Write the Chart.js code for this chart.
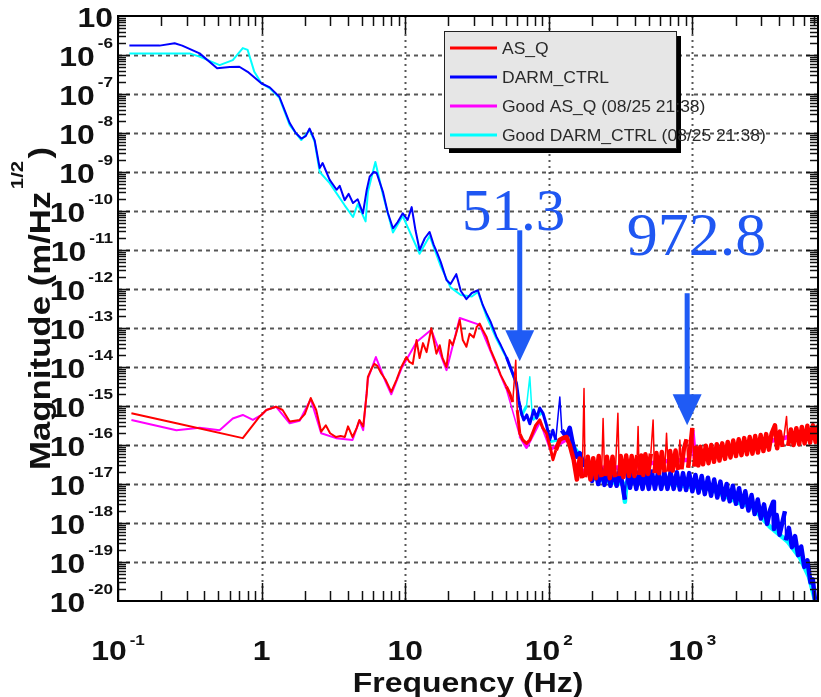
<!DOCTYPE html>
<html>
<head>
<meta charset="utf-8">
<title>AS_Q / DARM_CTRL spectrum</title>
<script src="https://cdn.jsdelivr.net/npm/chart.js@4.4.1/dist/chart.umd.min.js"></script>
<style>
  html, body { margin: 0; padding: 0; background: #fff; }
  #wrap { width: 821px; height: 697px; }
</style>
</head>
<body>
<div id="wrap"><canvas id="spec" width="821" height="697"></canvas></div>
<script>
// ---- data (Hz, m/Hz^1/2) ----
const asqFreq = [0.124, 0.255, 0.74, 0.97, 1.08, 1.26, 1.40, 1.57, 1.84, 2.0, 2.2, 2.4, 2.6, 2.8, 3.0, 3.3, 3.55, 3.8, 4.0, 4.3,
  4.6, 4.8, 5.1, 5.4, 5.5, 5.85, 6.1, 6.4, 6.8, 7.3, 8.0, 8.7, 9.4, 10.2, 10.7, 11.3, 12.0, 12.6, 13.3, 14.1,
  15.2, 15.8, 16.5, 17.4, 18.2, 19.4, 20.4, 21.4, 22.5, 24.0, 25.2, 26.7, 28.1, 30.0, 31.5, 33.0, 34.7, 36.8, 39.4, 43.2,
  46.3, 50.7, 53.5, 56.1, 58.9, 60.3, 62.8, 65.9, 70, 73.8, 77.4, 81, 86.5, 90.8, 96.4, 102, 107, 112, 119, 125,
  133, 140, 149, 157, 164, 171, 176, 179, 187, 195, 204, 213, 223, 233, 239, 245, 254, 266, 278, 290,
  303, 310, 317, 331, 346, 362, 378, 395, 413, 419, 426, 440, 455, 471, 492, 514, 533, 545, 562, 587,
  613, 641, 661, 680, 700, 731, 764, 799, 818, 840, 872, 912, 935, 965, 1000, 1030, 1060, 1100, 1136, 1187,
  1240, 1296, 1354, 1415, 1479, 1545, 1615, 1688, 1764, 1843, 1926, 2013, 2103, 2198, 2297, 2400, 2508, 2621, 2739, 2862,
  2991, 3126, 3266, 3413, 3567, 3760, 3895, 4070, 4254, 4530, 4645, 4854, 5073, 5301, 5540, 5789, 6050, 6322, 6607, 6904,
  7215, 7500];
const asqMag = [6.5e-16, 3.6e-16, 1.5e-16, 5.4e-16, 7.9e-16, 9.6e-16, 7.9e-16, 4.0e-16, 4.4e-16, 6.2e-16, 1.6e-15, 7.9e-16, 2.2e-16, 3.2e-16, 2.0e-16, 1.6e-16, 1.7e-16, 1.6e-16, 3.0e-16, 1.6e-16,
  2.75e-16, 4.4e-16, 3.0e-16, 2.1e-15, 5.6e-15, 9.3e-15, 1.2e-14, 1.07e-14, 6.9e-15, 4.7e-15, 2.3e-15, 4.7e-15, 1.0e-14, 1.8e-14, 1.35e-14, 1.2e-14, 4.9e-14, 1.7e-14, 4.1e-14, 2.4e-14,
  9.8e-14, 4.9e-14, 2.2e-14, 3.6e-14, 1.7e-14, 1.0e-14, 4.9e-14, 3.6e-14, 6.6e-14, 1.6e-13, 4.9e-14, 3.3e-14, 7.1e-14, 5.7e-14, 1.07e-13, 1.3e-13, 8.9e-14, 6.0e-14, 2.75e-14, 1.23e-14,
  6.2e-15, 3.2e-15, 2.1e-15, 1.26e-15, 1.5e-14, 7.9e-16, 2.0e-16, 1.35e-16, 1.1e-16, 1.35e-16, 2.1e-16, 3.2e-16, 4.4e-16, 2.75e-16, 2.0e-16, 9.1e-17, 4.2e-17, 7.4e-17, 1.35e-16, 1.5e-16,
  1.6e-16, 1.0e-16, 4.2e-17, 1.3e-17, 4.5e-17, 1.4e-17, 2.8e-15, 1.5e-17, 5.0e-17, 1.3e-17, 4.6e-17, 1.4e-17, 5.2e-17, 1.5e-17, 4.8e-16, 1.6e-17, 5.0e-17, 1.4e-17, 5.0e-17, 1.5e-17,
  6.5e-16, 1.6e-17, 5.2e-17, 1.5e-17, 5.4e-17, 1.6e-17, 5.2e-17, 1.6e-17, 5.5e-17, 3.0e-16, 1.7e-17, 5.4e-17, 1.7e-17, 5.8e-17, 1.8e-17, 6.0e-17, 4.4e-16, 1.9e-17, 6.2e-17, 1.9e-17,
  6.6e-17, 2.0e-17, 2.0e-16, 2.1e-17, 7.0e-17, 2.2e-17, 7.2e-17, 2.3e-17, 1.35e-16, 2.4e-17, 7.8e-17, 1.4e-16, 2.6e-17, 8.0e-17, 2.75e-16, 2.8e-17, 8.6e-17, 3.0e-17, 9.0e-17, 3.2e-17,
  9.6e-17, 3.4e-17, 1.0e-16, 3.7e-17, 1.05e-16, 4.0e-17, 1.1e-16, 4.4e-17, 1.2e-16, 4.8e-17, 1.3e-16, 5.2e-17, 1.4e-16, 5.5e-17, 1.5e-16, 5.8e-17, 1.6e-16, 6.0e-17, 1.7e-16, 6.4e-17,
  1.8e-16, 7.0e-17, 1.9e-16, 7.6e-17, 2.0e-16, 3.2e-16, 8.2e-17, 2.2e-16, 9.0e-17, 5.4e-16, 9.5e-17, 2.5e-16, 1.0e-16, 2.7e-16, 1.05e-16, 2.9e-16, 1.1e-16, 3.1e-16, 1.15e-16, 3.2e-16,
  1.2e-16, 3.3e-16];

const darmFreq = [0.12, 0.195, 0.248, 0.28, 0.37, 0.49, 0.60, 0.70, 0.80, 1.0, 1.14, 1.33, 1.57, 1.73, 1.89, 2.03, 2.16, 2.34, 2.54, 2.66,
  2.98, 3.33, 3.50, 3.79, 4.04, 4.33, 4.67, 5.08, 5.40, 5.66, 6.04, 6.33, 7.0, 7.55, 8.22, 8.87, 9.62, 10.4, 11.1, 11.8,
  12.6, 13.7, 14.8, 15.8, 16.6, 17.7, 19.4, 20.7, 22.7, 24.4, 26.7, 29.1, 32.1, 34.7, 36.8, 39.5, 43.2, 46.4, 50.7, 54.3,
  59.6, 61.8, 64.5, 67.0, 70.3, 73.8, 78.6, 82.4, 86.5, 91.2, 96.8, 101.6, 106.7, 111.9, 119.4, 123.3, 132.7, 140, 146.9, 156,
  164.4, 175.4, 187, 200, 210, 221, 232, 244, 256, 269, 283, 297, 312, 328, 339, 350, 368, 387, 407, 428,
  450, 473, 497, 522, 549, 577, 607, 638, 671, 705, 741, 779, 819, 861, 905, 951, 1000, 1051, 1105, 1162,
  1221, 1284, 1350, 1419, 1492, 1568, 1648, 1733, 1821, 1915, 2013, 2116, 2224, 2338, 2458, 2584, 2716, 2855, 3001, 3155,
  3317, 3487, 3656, 3700, 3865, 4050, 4250, 4416, 4470, 4700, 4940, 5190, 5450, 5730, 6020, 6330, 6650, 6900, 7145, 7500];
const darmMag = [1.74e-6, 1.74e-6, 2.0e-6, 1.74e-6, 1.1e-6, 4.6e-7, 4.9e-7, 5.0e-7, 3.7e-7, 1.86e-7, 1.48e-7, 8.5e-8, 1.8e-8, 1.0e-8, 7.2e-9, 8.3e-9, 1.3e-8, 6.6e-9, 1.26e-9, 1.7e-9,
  6.3e-10, 3.5e-10, 4.4e-10, 1.9e-10, 2.75e-10, 1.6e-10, 2.0e-10, 8.7e-11, 3.5e-10, 7.6e-10, 1.0e-9, 9.4e-10, 3.1e-10, 9.3e-11, 3.6e-11, 5.2e-11, 8.7e-11, 5.9e-11, 1.26e-10, 3.2e-11,
  1.0e-11, 2.0e-11, 2.9e-11, 1.35e-11, 8.9e-12, 4.9e-12, 1.7e-12, 1.35e-12, 2.4e-12, 8.9e-13, 5.5e-13, 7.9e-13, 9.3e-13, 3.9e-13, 2.4e-13, 1.4e-13, 6.0e-14, 3.6e-14, 1.8e-14, 9.3e-15,
  3.8e-15, 1.4e-15, 6.5e-16, 4.4e-16, 5.9e-16, 3.5e-16, 7.9e-16, 4.9e-16, 8.9e-16, 6.5e-16, 3.1e-16, 1.35e-16, 2.4e-16, 1.35e-16, 1.7e-15, 2.4e-16, 1.6e-16, 2.75e-16, 1.1e-16, 5.0e-17,
  6.2e-17, 3.1e-17, 4.2e-17, 1.2e-17, 2.6e-17, 1.0e-17, 2.4e-17, 9.5e-18, 2.5e-17, 9.0e-18, 2.4e-17, 9.0e-18, 2.3e-17, 8.5e-18, 4.0e-18, 2.1e-17, 8.0e-18, 2.1e-17, 7.5e-18, 2.1e-17,
  7.5e-18, 2.1e-17, 7.5e-18, 2.1e-17, 7.5e-18, 2.0e-17, 7.5e-18, 2.0e-17, 7.5e-18, 2.0e-17, 7.5e-18, 2.0e-17, 7.2e-18, 1.9e-17, 7.0e-18, 1.9e-17, 6.5e-18, 1.7e-17, 6.0e-18, 1.6e-17,
  5.5e-18, 1.45e-17, 5.0e-18, 1.3e-17, 4.5e-18, 1.15e-17, 4.0e-18, 1.0e-17, 3.6e-18, 9.0e-18, 3.1e-18, 7.8e-18, 2.6e-18, 6.5e-18, 2.1e-18, 5.2e-18, 1.7e-18, 4.0e-18, 1.3e-18, 3.0e-18,
  9.5e-19, 2.2e-18, 3.5e-18, 7.0e-19, 1.6e-18, 5.0e-19, 1.1e-18, 2.0e-18, 3.6e-19, 7.5e-19, 2.4e-19, 4.6e-19, 1.5e-19, 2.5e-19, 7.5e-20, 1.1e-19, 3.0e-20, 3.6e-20, 1.07e-20, 6e-21];

const goodAsqFreq = [0.124, 0.255, 0.37, 0.51, 0.63, 0.74, 0.87, 1.0, 1.08, 1.26, 1.57, 1.84, 2.2, 2.6, 3.3, 4.3, 4.8, 5.1, 5.5, 6.25,
  7.3, 8.0, 9.4, 12.0, 15.2, 19.4, 24.0, 33.0, 43.2, 50.7, 62.8, 70, 86.5, 102, 133, 164, 204, 279, 404, 594,
  960, 1000, 1040, 1607, 2950, 5012, 7500];
const goodAsqMag = [4.4e-16, 2.4e-16, 2.75e-16, 2.4e-16, 4.8e-16, 5.9e-16, 4.4e-16, 5.9e-16, 7.9e-16, 9.6e-16, 3.6e-16, 4.2e-16, 1.5e-15, 2.0e-16, 1.5e-16, 1.35e-16, 4.2e-16, 2.4e-16, 5.0e-15, 1.8e-14,
  4.2e-15, 2.0e-15, 9.0e-15, 4.4e-14, 9.0e-14, 8.3e-15, 1.8e-13, 1.2e-13, 1.1e-14, 2.7e-15, 1.7e-16, 8.7e-17, 4.0e-16, 7.6e-17, 1.35e-16, 2.0e-17, 2.6e-17, 2.6e-17, 2.8e-17, 3.8e-17,
  4.2e-17, 2.4e-16, 4.6e-17, 6.0e-17, 1.1e-16, 1.7e-16, 2.2e-16];

const goodDarmFreq = [0.12, 0.315, 0.37, 0.51, 0.63, 0.74, 0.80, 0.89, 1.0, 1.14, 1.33, 1.57, 1.89, 2.16, 2.34, 2.54, 2.98, 3.79, 4.33, 4.67,
  5.3, 5.5, 6.2, 7.0, 8.22, 9.62, 12.6, 14.8, 17.7, 20.7, 24.4, 29.1, 32.1, 36.8, 43.2, 50.7, 59.6, 64.5, 70, 73.8,
  77, 91, 101.6, 132.7, 164, 204, 279, 330, 339, 348, 522, 845, 1324, 2143, 2600, 3467, 4634, 5610, 6486, 7145, 7500];
const goodDarmMag = [1.1e-6, 1.1e-6, 9.1e-7, 5.5e-7, 7.4e-7, 1.5e-6, 1.35e-6, 3.7e-7, 1.86e-7, 1.4e-7, 8.0e-8, 1.6e-8, 6.6e-9, 1.2e-8, 6.0e-9, 1.0e-9, 5.2e-10, 1.4e-10, 7.0e-11, 1.5e-10,
  5.4e-11, 3.1e-10, 1.8e-9, 2.6e-10, 2.8e-11, 7.4e-11, 8.0e-12, 2.3e-11, 3.8e-12, 1.1e-12, 7.0e-13, 6.4e-13, 8.4e-13, 2.0e-13, 5.3e-14, 1.7e-14, 3.2e-15, 5.6e-16, 1.0e-15, 5.6e-15,
  4.4e-16, 7.0e-16, 1.2e-16, 1.5e-16, 5.6e-17, 1.4e-17, 1.1e-17, 1.0e-17, 3.5e-18, 1.1e-17, 1.2e-17, 9.0e-18, 7.5e-18, 3.2e-18, 2.6e-18, 8.0e-19, 3.3e-19, 1.3e-19, 4.2e-20, 1.07e-20, 6e-21];

// axis ticks
const xTicks = [0.1, 1, 10, 100, 1000];
const xTickBase = ['10', '1', '10', '10', '10'];
const xTickSup = ['-1', '', '', '2', '3'];
const yTicks = [1e-5, 1e-6, 1e-7, 1e-8, 1e-9, 1e-10, 1e-11, 1e-12, 1e-13, 1e-14, 1e-15, 1e-16, 1e-17, 1e-18, 1e-19, 1e-20];
const yTickSup = ['', '-6', '-7', '-8', '-9', '-10', '-11', '-12', '-13', '-14', '-15', '-16', '-17', '-18', '-19', '-20'];

const seriesLabels = ['AS_Q', 'DARM_CTRL', 'Good AS_Q (08/25 21:38)', 'Good DARM_CTRL (08/25 21:38)'];
const seriesColors = ['#ff0000', '#0000ff', '#ff00ff', '#00ffff'];

// arrow notes (frequency, tail value, tip value)
const notes = [
  { text: '51.3', f: 62.8, tail: 3.2e-11, tip: 1.4e-14, textF: 57, textV: 3.2e-11, size: 59 },
  { text: '972.8', f: 920, tail: 7.8e-13, tip: 3.2e-16, textF: 1070, textV: 7.4e-12, size: 62 }
];

const FONT = '"Liberation Sans", Arial, Helvetica, sans-serif';
const SX = 1.14; // the source lettering is a bit wide

function pts(fs, ms) {
  return fs.map((f, i) => ({ x: f, y: ms[i] }));
}

// above ~50 Hz the traces are dense noise: draw a wider pen there,
// but keep the tall line spikes thin
function bandWidth(c) {
  if (c.p0.parsed.x < 48) return 2;
  if (Math.abs(c.p0.y - c.p1.y) > 28) return 1.5;
  return c.p0.parsed.x < 110 ? 3 : 4.5;
}

function wideText(ctx, text, left, y, sx) {
  ctx.save();
  ctx.translate(left, y);
  ctx.scale(sx, 1);
  ctx.textAlign = 'left';
  ctx.fillText(text, 0, 0);
  ctx.restore();
}

function powLabel(ctx, base, sup, x, y, align, supDy) {
  ctx.font = 'bold 28px ' + FONT;
  const wb = ctx.measureText(base).width * SX;
  ctx.font = 'bold 15px ' + FONT;
  const ws = sup ? ctx.measureText(sup).width * SX + 3 : 0;
  const total = wb + ws;
  const left = align === 'right' ? x - total : x - total / 2;
  ctx.font = 'bold 28px ' + FONT;
  wideText(ctx, base, left, y, SX);
  if (sup) {
    ctx.font = 'bold 15px ' + FONT;
    wideText(ctx, sup, left + wb + 3, y + supDy, SX);
  }
}

function hline(ctx, x1, x2, y) {
  ctx.beginPath(); ctx.moveTo(x1, y); ctx.lineTo(x2, y); ctx.stroke();
}
function vline(ctx, x, y1, y2) {
  ctx.beginPath(); ctx.moveTo(x, y1); ctx.lineTo(x, y2); ctx.stroke();
}

const decor = {
  id: 'decor',
  beforeDatasetsDraw(chart) {
    const { ctx, chartArea: a, scales: { x, y } } = chart;
    ctx.save();
    ctx.lineWidth = 2;
    ctx.strokeStyle = 'rgba(45,45,45,0.8)';
    ctx.setLineDash([4, 4]);
    yTicks.forEach(v => {
      const py = Math.round(y.getPixelForValue(v)) + 0.5;
      if (py < a.top + 2 || py > a.bottom - 2) return;
      hline(ctx, a.left, a.right, py);
    });
    ctx.setLineDash([2, 4]);
    xTicks.forEach(v => {
      const px = Math.round(x.getPixelForValue(v)) + 0.5;
      if (px < a.left + 2 || px > a.right - 2) return;
      vline(ctx, px, a.top, a.bottom);
    });
    ctx.restore();
  },
  afterDatasetsDraw(chart) {
    const { ctx, chartArea: a, scales: { x, y } } = chart;
    ctx.save();

    // minor / major ticks
    ctx.strokeStyle = '#111';
    ctx.lineWidth = 1.5;
    for (let n = -20; n < -5; n++) {
      for (let k = 1; k <= 9; k++) {
        const py = Math.round(y.getPixelForValue(k * Math.pow(10, n))) + 0.5;
        if (py < a.top || py > a.bottom) continue;
        const len = k === 1 ? 12 : 8;
        hline(ctx, a.left, a.left + len, py);
        hline(ctx, a.right - len, a.right, py);
      }
    }
    for (let n = -1; n <= 3; n++) {
      for (let k = 1; k <= 9; k++) {
        const v = k * Math.pow(10, n);
        const px = Math.round(x.getPixelForValue(v)) + 0.5;
        if (px < a.left || px > a.right) continue;
        const len = k === 1 ? 18 : 10;
        vline(ctx, px, a.bottom - len, a.bottom);
        vline(ctx, px, a.top, a.top + len);
      }
    }

    // frame
    ctx.lineWidth = 2;
    ctx.strokeStyle = '#000';
    ctx.strokeRect(a.left, a.top, a.right - a.left, a.bottom - a.top);

    // tick labels
    ctx.fillStyle = '#111';
    ctx.textBaseline = 'alphabetic';
    yTicks.forEach((v, i) => {
      const py = y.getPixelForValue(v);
      powLabel(ctx, '10', yTickSup[i], 113, py + 11, 'right', -18);
    });
    xTicks.forEach((v, i) => {
      const px = x.getPixelForValue(v);
      powLabel(ctx, xTickBase[i], xTickSup[i], px, 660, 'center', -15);
    });

    // axis titles
    ctx.font = 'bold 28px ' + FONT;
    const ft = 'Frequency (Hz)';
    const fw = ctx.measureText(ft).width * SX;
    wideText(ctx, ft, (a.left + a.right) / 2 - fw / 2, 692, SX);

    ctx.save();
    ctx.translate(50, 470);
    ctx.rotate(-Math.PI / 2);
    ctx.scale(1.2, 1);
    ctx.textAlign = 'left';
    ctx.font = 'bold 29px ' + FONT;
    const t1 = 'Magnitude (m/Hz';
    ctx.fillText(t1, 0, 0);
    let off = ctx.measureText(t1).width + 2;
    ctx.font = 'bold 17px ' + FONT;
    ctx.fillText('1/2', off, -27);
    off += ctx.measureText('1/2').width + 2;
    ctx.font = 'bold 29px ' + FONT;
    ctx.fillText(')', off, 0);
    ctx.restore();

    // legend box with drop shadow; labels run past the box as in the source
    const bx = 444, by = 31, bw = 232, bh = 117;
    ctx.fillStyle = '#000';
    ctx.fillRect(bx + 5, by + 5, bw, bh);
    ctx.fillStyle = '#e6e6e6';
    ctx.fillRect(bx, by, bw, bh);
    ctx.lineWidth = 1;
    ctx.strokeStyle = '#222';
    ctx.strokeRect(bx + 0.5, by + 0.5, bw, bh);
    const rows = [48, 77, 106, 135];
    ctx.font = '17px ' + FONT;
    seriesLabels.forEach((lab, i) => {
      ctx.strokeStyle = seriesColors[i];
      ctx.lineWidth = 3;
      hline(ctx, 450, 497, rows[i]);
      ctx.fillStyle = '#2a2a2a';
      ctx.textAlign = 'left';
      wideText(ctx, lab, 502, rows[i] + 6, 1.03);
    });

    // arrow notes
    notes.forEach(nt => {
      const px = x.getPixelForValue(nt.f);
      const pTail = y.getPixelForValue(nt.tail);
      const pTip = y.getPixelForValue(nt.tip);
      ctx.fillStyle = '#1f5bf5';
      ctx.strokeStyle = '#1f5bf5';
      ctx.lineWidth = 5;
      vline(ctx, px, pTail, pTip - 28);
      ctx.beginPath();
      ctx.moveTo(px - 14.5, pTip - 31);
      ctx.lineTo(px + 14.5, pTip - 31);
      ctx.lineTo(px, pTip);
      ctx.closePath();
      ctx.fill();
      ctx.font = nt.size + 'px "Liberation Serif", "Times New Roman", serif';
      ctx.textAlign = 'center';
      ctx.fillStyle = '#1f57f2';
      ctx.fillText(nt.text, x.getPixelForValue(nt.textF), y.getPixelForValue(nt.textV));
    });

    ctx.restore();
  }
};

const freqs = [asqFreq, darmFreq, goodAsqFreq, goodDarmFreq];
const mags = [asqMag, darmMag, goodAsqMag, goodDarmMag];

new Chart(document.getElementById('spec'), {
  type: 'scatter',
  data: {
    datasets: seriesLabels.map((lab, i) => ({
      label: lab,
      data: pts(freqs[i], mags[i]),
      showLine: true,
      borderColor: seriesColors[i],
      backgroundColor: seriesColors[i],
      borderWidth: 2,
      borderJoinStyle: 'round',
      pointRadius: 0,
      tension: 0,
      segment: { borderWidth: bandWidth }
    }))
  },
  options: {
    responsive: false,
    animation: false,
    devicePixelRatio: 1,
    layout: { padding: { left: 118, top: 16, right: 3, bottom: 96 } },
    scales: {
      x: { type: 'logarithmic', min: 0.1, max: 7500, display: false },
      y: { type: 'logarithmic', min: 1e-20, max: 1e-5, display: false }
    },
    plugins: { legend: { display: false }, tooltip: { enabled: false } }
  },
  plugins: [decor]
});
</script>
</body>
</html>
